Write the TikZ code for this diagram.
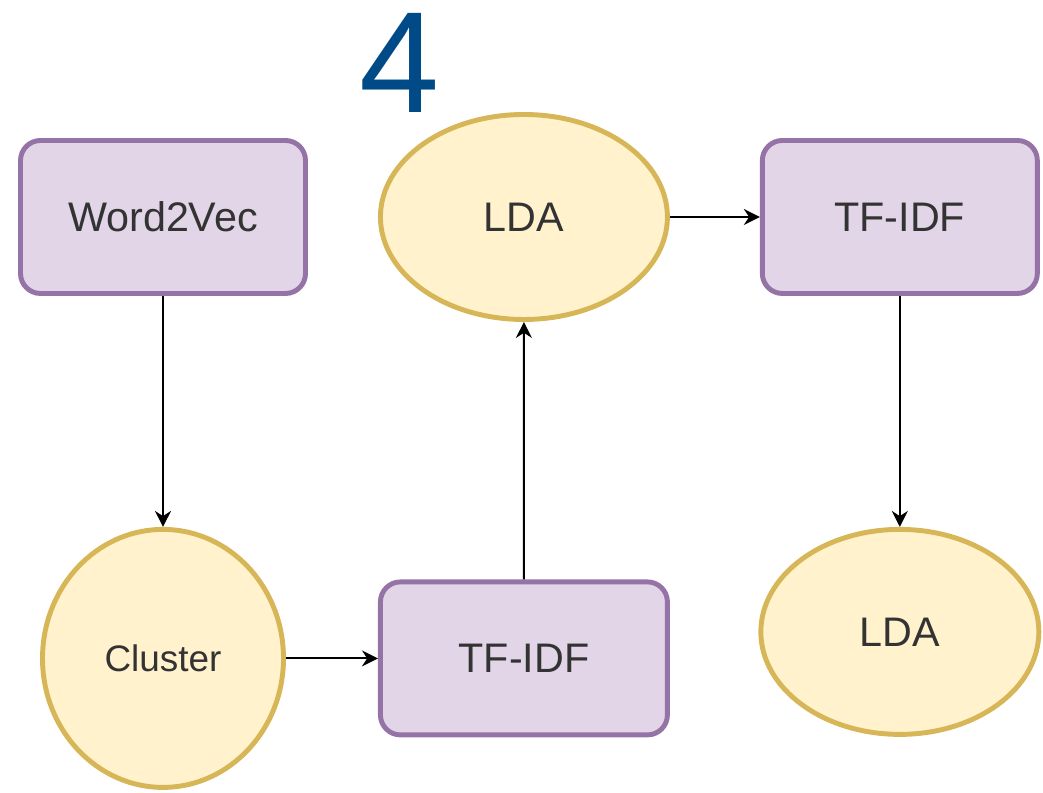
\documentclass[tikz,border=0pt]{standalone}
\usepackage{fontspec}
\setmainfont{Liberation Sans}
\usetikzlibrary{positioning, shapes.geometric, arrows.meta}
\definecolor{boxfill}{HTML}{E1D5E7}
\definecolor{boxline}{HTML}{9673A6}
\definecolor{ovalfill}{HTML}{FFF2CC}
\definecolor{ovalline}{HTML}{D6B656}
\definecolor{labeltext}{HTML}{333333}
\definecolor{stepblue}{HTML}{004B87}
\tikzset{
    method/.style={rectangle, rounded corners=0.4cm, draw=boxline, fill=boxfill, line width=2.8pt, text=labeltext, inner sep=0pt, font=\fontsize{23.5}{28}\selectfont},
    model/.style={ellipse, draw=ovalline, fill=ovalfill, line width=2.8pt, text=labeltext, inner sep=0pt, font=\fontsize{23.5}{28}\selectfont},
    flow/.style={-{Stealth[length=0.32cm, width=0.32cm]}, line width=1.1pt},
    stepnum/.style={text=stepblue, inner sep=0pt, font=\fontsize{82}{90}\selectfont},
}
\begin{document}
\begin{tikzpicture}
        \useasboundingbox (0,0) rectangle (20.86,15.86);
        \node [method, minimum width=5.7cm, minimum height=3.06cm] (w2v) at (3.26,11.52) {Word2Vec};
        \node [model, minimum width=5.74cm, minimum height=4.1cm] (lda) [right=1.4cm of w2v] {LDA};
        \node [method, minimum width=5.5cm, minimum height=3.06cm] (tfidf) [right=1.8cm of lda] {TF-IDF};
        \node [model, minimum width=4.82cm, minimum height=5.16cm, font=\fontsize{21}{25}\selectfont] (cluster) [below=4.62cm of w2v] {Cluster};
        \node [method, minimum width=5.74cm, minimum height=3.06cm] (ctfidf) [right=1.84cm of cluster] {TF-IDF};
        \node [model, minimum width=5.56cm, minimum height=4.1cm] (clda) [below=4.62cm of tfidf] {LDA};
        \node [stepnum] (step) at (8.0,14.6) {4};
        \draw[flow] (w2v) -- (cluster);
        \draw[flow] (cluster) -- (ctfidf);
        \draw[flow] (ctfidf) -- (lda);
        \draw[flow] (lda) -- (tfidf);
        \draw[flow] (tfidf) -- (clda);
    \end{tikzpicture}
\end{document}
